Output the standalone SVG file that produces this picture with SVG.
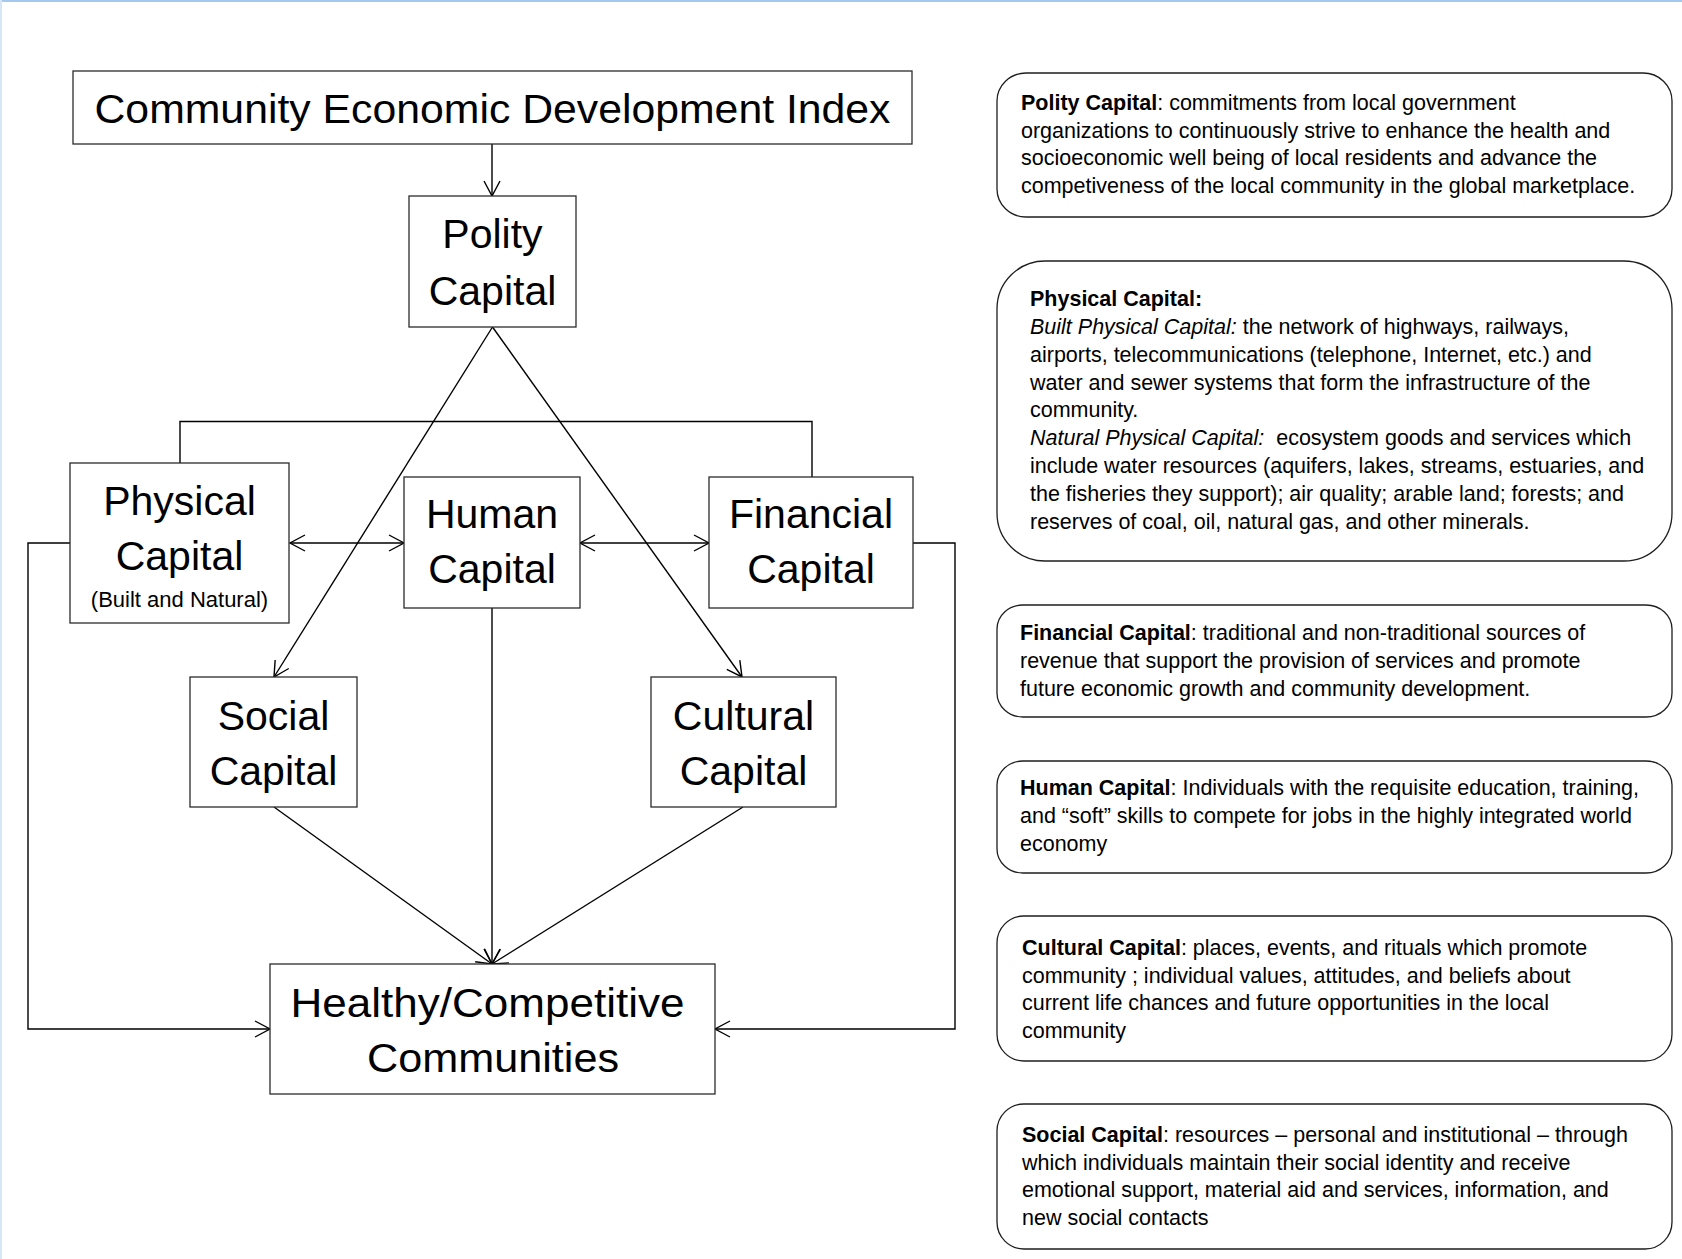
<svg xmlns="http://www.w3.org/2000/svg" width="1682" height="1259" viewBox="0 0 1682 1259">
  <style>
    .box { fill: #ffffff; stroke: #2b2b2b; stroke-width: 1.3; }
    .note { fill: #ffffff; stroke: #1e1e1e; stroke-width: 1.3; }
    .big { font-family: "Liberation Sans", Arial, sans-serif; font-size: 41px; fill: #000; text-anchor: middle; }
    .small { font-family: "Liberation Sans", Arial, sans-serif; font-size: 22px; fill: #000; text-anchor: middle; }
    .body { font-family: "Liberation Sans", Arial, sans-serif; font-size: 21.5px; fill: #000; }
    .b { font-weight: bold; }
    .i { font-style: italic; }
    .wire { fill: none; stroke: #000; stroke-width: 1.4; }
  </style>
  <defs>
    <marker id="arrow" viewBox="-16 -9 18 18" refX="0" refY="0" markerWidth="18" markerHeight="18" markerUnits="userSpaceOnUse" orient="auto-start-reverse">
      <path d="M -15 -8 L 0 0 L -15 8" fill="none" stroke="#000" stroke-width="1.4"/>
    </marker>
  </defs>

  <rect width="1682" height="1259" fill="#ffffff"/>
  <!-- page frame edges -->
  <line x1="0" y1="1" x2="1682" y2="1" stroke="#a4c8ee" stroke-width="2"/>
  <line x1="1" y1="0" x2="1" y2="1259" stroke="#d7e6f6" stroke-width="2"/>

  <!-- connectors -->
  <g id="connectors">
    <line class="wire" x1="492" y1="144" x2="492" y2="196" marker-end="url(#arrow)"/>
    <line class="wire" x1="492.5" y1="327" x2="274" y2="677" marker-end="url(#arrow)"/>
    <line class="wire" x1="492.5" y1="327" x2="742" y2="677" marker-end="url(#arrow)"/>
    <polyline class="wire" points="180,463 180,421.5 812,421.5 812,477"/>
    <line class="wire" x1="290" y1="543" x2="404" y2="543" marker-start="url(#arrow)" marker-end="url(#arrow)"/>
    <line class="wire" x1="580" y1="543" x2="709" y2="543" marker-start="url(#arrow)" marker-end="url(#arrow)"/>
    <polyline class="wire" points="70,543 28,543 28,1029 270,1029" marker-end="url(#arrow)"/>
    <polyline class="wire" points="913,543 955,543 955,1029 715,1029" marker-end="url(#arrow)"/>
    <line class="wire" x1="492" y1="608" x2="492" y2="964" marker-end="url(#arrow)"/>
    <line class="wire" x1="274" y1="807" x2="492" y2="964" marker-end="url(#arrow)"/>
    <line class="wire" x1="743" y1="807" x2="492" y2="964" marker-end="url(#arrow)"/>
  </g>

  <!-- diagram nodes -->
  <g id="index">
    <rect class="box" x="73" y="71" width="839" height="73"/>
    <text class="big" x="492.5" y="123" textLength="796" lengthAdjust="spacingAndGlyphs">Community Economic Development Index</text>
  </g>
  <g id="polity">
    <rect class="box" x="409" y="196" width="167" height="131"/>
    <text class="big" x="492.5" y="248">Polity</text>
    <text class="big" x="492.5" y="305">Capital</text>
  </g>
  <g id="physical">
    <rect class="box" x="70" y="463" width="219" height="160"/>
    <text class="big" x="179.5" y="515">Physical</text>
    <text class="big" x="179.5" y="570">Capital</text>
    <text class="small" x="179.5" y="607">(Built and Natural)</text>
  </g>
  <g id="human">
    <rect class="box" x="404" y="477" width="176" height="131"/>
    <text class="big" x="492" y="528">Human</text>
    <text class="big" x="492" y="583">Capital</text>
  </g>
  <g id="financial">
    <rect class="box" x="709" y="477" width="204" height="131"/>
    <text class="big" x="811" y="528">Financial</text>
    <text class="big" x="811" y="583">Capital</text>
  </g>
  <g id="social">
    <rect class="box" x="190" y="677" width="167" height="130"/>
    <text class="big" x="273.5" y="730">Social</text>
    <text class="big" x="273.5" y="785">Capital</text>
  </g>
  <g id="cultural">
    <rect class="box" x="651" y="677" width="185" height="130"/>
    <text class="big" x="743.5" y="730">Cultural</text>
    <text class="big" x="743.5" y="785">Capital</text>
  </g>
  <g id="healthy">
    <rect class="box" x="270" y="964" width="445" height="130"/>
    <text class="big" x="487.5" y="1017" textLength="394" lengthAdjust="spacingAndGlyphs">Healthy/Competitive</text>
    <text class="big" x="493" y="1072" textLength="252" lengthAdjust="spacingAndGlyphs">Communities</text>
  </g>

  <!-- definition panels -->
  <g id="def-polity">
    <rect class="note" x="997" y="73" width="675" height="144" rx="29" ry="28"/>
    <text class="body" x="1021" y="110"><tspan class="b">Polity Capital</tspan>: commitments from local government</text>
    <text class="body" x="1021" y="137.5">organizations to continuously strive to enhance the health and</text>
    <text class="body" x="1021" y="165">socioeconomic well being of local residents and advance the</text>
    <text class="body" x="1021" y="193">competiveness of the local community in the global marketplace.</text>
  </g>
  <g id="def-physical">
    <rect class="note" x="997" y="261" width="675" height="300" rx="48" ry="48"/>
    <text class="body" x="1030" y="306"><tspan class="b">Physical Capital:</tspan></text>
    <text class="body" x="1030" y="334"><tspan class="i">Built Physical Capital:</tspan> the network of highways, railways,</text>
    <text class="body" x="1030" y="361.5">airports, telecommunications (telephone, Internet, etc.) and</text>
    <text class="body" x="1030" y="389.5">water and sewer systems that form the infrastructure of the</text>
    <text class="body" x="1030" y="417">community.</text>
    <text class="body" x="1030" y="445"><tspan class="i">Natural Physical Capital:</tspan><tspan dx="6"> ecosystem goods and services which</tspan></text>
    <text class="body" x="1030" y="473">include water resources (aquifers, lakes, streams, estuaries, and</text>
    <text class="body" x="1030" y="500.5">the fisheries they support); air quality; arable land; forests; and</text>
    <text class="body" x="1030" y="528.5">reserves of coal, oil, natural gas, and other minerals.</text>
  </g>
  <g id="def-financial">
    <rect class="note" x="997" y="605" width="675" height="112" rx="26" ry="24"/>
    <text class="body" x="1020" y="640"><tspan class="b">Financial Capital</tspan>: traditional and non-traditional sources of</text>
    <text class="body" x="1020" y="668">revenue that support the provision of services and promote</text>
    <text class="body" x="1020" y="696">future economic growth and community development.</text>
  </g>
  <g id="def-human">
    <rect class="note" x="997" y="761" width="675" height="112" rx="26" ry="24"/>
    <text class="body" x="1020" y="795"><tspan class="b">Human Capital</tspan>: Individuals with the requisite education, training,</text>
    <text class="body" x="1020" y="823">and “soft” skills to compete for jobs in the highly integrated world</text>
    <text class="body" x="1020" y="851">economy</text>
  </g>
  <g id="def-cultural">
    <rect class="note" x="997" y="916" width="675" height="145" rx="27" ry="27"/>
    <text class="body" x="1022" y="955"><tspan class="b">Cultural Capital</tspan>: places, events, and rituals which promote</text>
    <text class="body" x="1022" y="982.5">community ; individual values, attitudes, and beliefs about</text>
    <text class="body" x="1022" y="1010">current life chances and future opportunities in the local</text>
    <text class="body" x="1022" y="1037.5">community</text>
  </g>
  <g id="def-social">
    <rect class="note" x="997" y="1104" width="675" height="145" rx="27" ry="27"/>
    <text class="body" x="1022" y="1141.5"><tspan class="b">Social Capital</tspan>: resources – personal and institutional – through</text>
    <text class="body" x="1022" y="1169.5">which individuals maintain their social identity and receive</text>
    <text class="body" x="1022" y="1197">emotional support, material aid and services, information, and</text>
    <text class="body" x="1022" y="1225">new social contacts</text>
  </g>
</svg>
